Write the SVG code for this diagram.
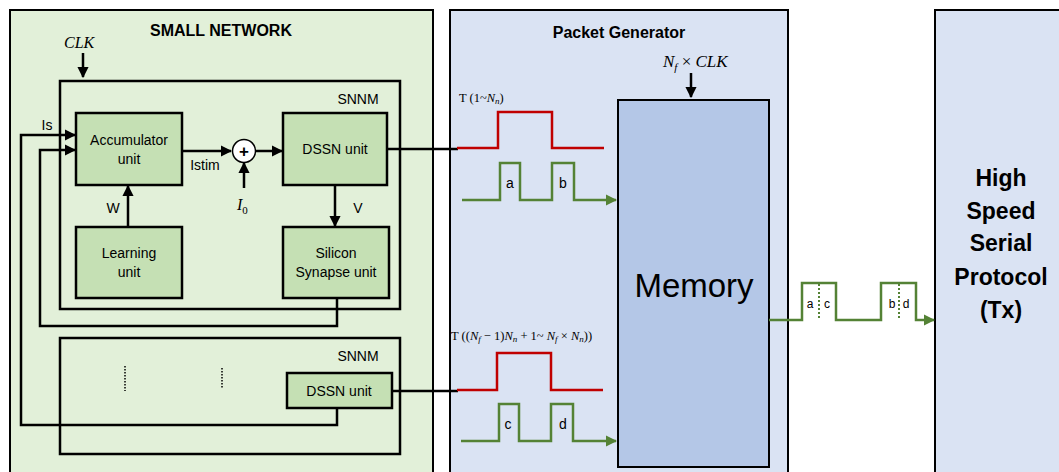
<svg xmlns="http://www.w3.org/2000/svg" width="1059" height="472" viewBox="0 0 1059 472">
<style>
.panel{stroke:#000;stroke-width:2}
.unit{fill:#c5e0b4;stroke:#000;stroke-width:2.5}
.snnm{fill:none;stroke:#000;stroke-width:2.5}
.w{stroke:#000;stroke-width:2.5;fill:none}
.red{stroke:#c00000;stroke-width:2.5;fill:none}
.grn{stroke:#548235;stroke-width:2.5;fill:none}
.t{font-family:"Liberation Sans",Arial,sans-serif;fill:#000;text-anchor:middle}
.m{font-family:"Liberation Serif","Times New Roman",serif;font-style:italic;fill:#000}
</style>
<defs>
<marker id="ab" viewBox="0 0 10 10" refX="9" refY="5" markerWidth="4.5" markerHeight="4.5" orient="auto"><path d="M0,0L10,5L0,10z" fill="#000"/></marker>
<marker id="ag" viewBox="0 0 10 10" refX="9" refY="5" markerWidth="4.5" markerHeight="4.5" orient="auto"><path d="M0,0L10,5L0,10z" fill="#548235"/></marker>
</defs>
<rect width="1059" height="472" fill="#fff"/>
<g id="small-network">
<rect class="panel" x="10" y="10" width="423" height="475" fill="#e2f0d9"/>
<text class="t" x="221" y="36" font-size="16" font-weight="bold">SMALL NETWORK</text>
<text class="m" x="64" y="48" font-size="16">CLK</text>
</g>
<g id="packet-generator">
<rect class="panel" x="450" y="10" width="338" height="475" fill="#dae3f3"/>
<text class="t" x="619" y="38" font-size="16" font-weight="bold">Packet Generator</text>
<text class="m" x="663" y="67" font-size="17">N<tspan font-size="11" dy="4">f</tspan><tspan dy="-4" font-style="normal"> × </tspan>CLK</text>
</g>
<g id="hssp">
<rect class="panel" x="935" y="10" width="140" height="475" fill="#dae3f3"/>
<text class="t" font-size="23" font-weight="bold"><tspan x="1001" y="186">High</tspan><tspan x="1001" y="219">Speed</tspan><tspan x="1001" y="251">Serial</tspan><tspan x="1001" y="285">Protocol</tspan><tspan x="1001" y="318">(Tx)</tspan></text>
</g>
<g id="snnm1">
<rect class="snnm" x="60" y="81" width="340" height="228"/>
<text class="t" x="358" y="104" font-size="14">SNNM</text>
</g>
<g id="snnm2">
<rect class="snnm" x="60" y="338" width="340" height="116"/>
<text class="t" x="358" y="361" font-size="14">SNNM</text>
<line x1="125" y1="366" x2="125" y2="391" stroke="#000" stroke-width="1.5" stroke-dasharray="1.5,1.5"/>
<line x1="222" y1="368" x2="222" y2="389" stroke="#000" stroke-width="1.5" stroke-dasharray="1.5,1.5"/>
</g>
<g id="accumulator">
<rect class="unit" x="76" y="113" width="106" height="72"/>
<text class="t" font-size="14"><tspan x="129" y="145">Accumulator</tspan><tspan x="129" y="164">unit</tspan></text>
</g>
<g id="dssn1">
<rect class="unit" x="283" y="113" width="104" height="72"/>
<text class="t" x="335" y="154" font-size="14">DSSN unit</text>
</g>
<g id="learning">
<rect class="unit" x="76" y="227" width="106" height="71"/>
<text class="t" font-size="14"><tspan x="129" y="258">Learning</tspan><tspan x="129" y="277">unit</tspan></text>
</g>
<g id="synapse">
<rect class="unit" x="283" y="227" width="106" height="71"/>
<text class="t" font-size="14"><tspan x="336" y="258">Silicon</tspan><tspan x="336" y="277">Synapse unit</tspan></text>
</g>
<g id="dssn2">
<rect class="unit" x="287" y="373" width="105" height="35"/>
<text class="t" x="339" y="396" font-size="14">DSSN unit</text>
</g>
<g id="adder">
<circle cx="244" cy="151" r="11.5" fill="#fff" stroke="#000" stroke-width="1.5"/>
<text class="t" x="244" y="157" font-size="17" font-weight="bold">+</text>
</g>
<g id="memory">
<rect x="618" y="100" width="151" height="367" fill="#b4c7e7" stroke="#000" stroke-width="2"/>
<text class="t" x="694" y="297" font-size="33">Memory</text>
</g>
<g id="connectors">
<path class="w" d="M83,53V77" stroke-width="3" marker-end="url(#ab)"/>
<path class="w" d="M691,73V97" stroke-width="3" marker-end="url(#ab)"/>
<path class="w" d="M337,408V425H21V135H75" marker-end="url(#ab)"/>
<path class="w" d="M337,298V326H40V150H75" marker-end="url(#ab)"/>
<path class="w" d="M182,151H231" marker-end="url(#ab)"/>
<path class="w" d="M244,188V163" marker-end="url(#ab)"/>
<path class="w" d="M256,151H282" marker-end="url(#ab)"/>
<path class="w" d="M128,227V186" marker-end="url(#ab)"/>
<path class="w" d="M335,185V226" marker-end="url(#ab)"/>
<path class="w" d="M387,149H458"/>
<path class="w" d="M392,391H458"/>
<path class="red" d="M457,148H498V112H552V148H604"/>
<path class="red" d="M457,390H497V353H551V390H603"/>
<path class="grn" d="M462,200H500V163H520V200H552V163H574V200H616" marker-end="url(#ag)"/>
<path class="grn" d="M461,441H499V404H519V441H551V404H573V441H616" marker-end="url(#ag)"/>
<path class="grn" d="M769,320H802V283H836V320H881V283H916V320H934" marker-end="url(#ag)"/>
<line x1="819" y1="284" x2="819" y2="320" stroke="#548235" stroke-width="2" stroke-dasharray="2,2"/>
<line x1="899" y1="284" x2="899" y2="320" stroke="#548235" stroke-width="2" stroke-dasharray="2,2"/>
</g>
<g id="labels">
<text class="t" x="47" y="130" font-size="14">Is</text>
<text class="t" x="205" y="170" font-size="14">Istim</text>
<text class="m" x="237" y="210" font-size="16">I<tspan font-size="11" dy="4" font-style="normal">0</tspan></text>
<text class="t" x="113" y="213" font-size="14">W</text>
<text class="t" x="358" y="213" font-size="14">V</text>
<text class="t" x="510" y="188" font-size="14">a</text>
<text class="t" x="563" y="188" font-size="14">b</text>
<text class="t" x="508" y="429" font-size="14">c</text>
<text class="t" x="563" y="429" font-size="14">d</text>
<text class="t" x="810" y="308" font-size="12">a</text>
<text class="t" x="827" y="308" font-size="12">c</text>
<text class="t" x="892" y="308" font-size="12">b</text>
<text class="t" x="906" y="308" font-size="12">d</text>
<text class="m" x="459" y="102" font-size="12.5"><tspan font-style="normal">T (1~</tspan>N<tspan font-size="9" dy="2">n</tspan><tspan dy="-2" font-style="normal">)</tspan></text>
<text class="m" x="451" y="340" font-size="12.5"><tspan font-style="normal">T ((</tspan>N<tspan font-size="9" dy="2">f</tspan><tspan dy="-2" font-style="normal"> − 1)</tspan>N<tspan font-size="9" dy="2">n</tspan><tspan dy="-2" font-style="normal"> + 1~ </tspan>N<tspan font-size="9" dy="2">f</tspan><tspan dy="-2" font-style="normal"> × </tspan>N<tspan font-size="9" dy="2">n</tspan><tspan dy="-2" font-style="normal">))</tspan></text>
</g>
</svg>
